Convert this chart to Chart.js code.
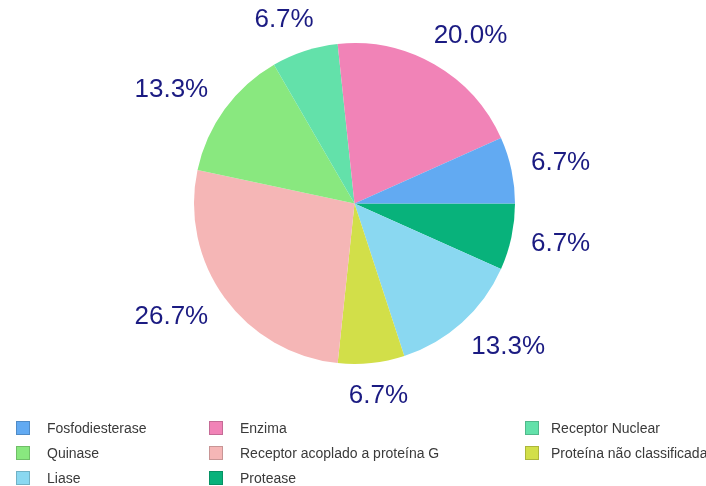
<!DOCTYPE html>
<html>
<head>
<meta charset="utf-8">
<script src="https://cdn.jsdelivr.net/npm/chart.js@4/dist/chart.umd.min.js"></script>
<style>
  html, body { margin: 0; padding: 0; background: #fff; }
  #wrap { position: relative; width: 706px; height: 486px; overflow: hidden; }
  #pie { position: absolute; left: 0; top: 0; }
  .lg { position: absolute; font-family: "Liberation Sans", Arial, sans-serif; font-size: 14px; color: #3a3a3a; white-space: nowrap; line-height: 16px; }
  .lg i { position: absolute; width: 12px; height: 12px; border: 1px solid rgba(0,0,0,0.18); top: 1px; }
  .lg span { position: absolute; top: 0; }
</style>
</head>
<body>
<div id="wrap">
  <canvas id="pie" width="706" height="486"></canvas>
</div>
<script>
// Target classes, listed counter-clockwise from 3 o'clock (same order as the legend)
const categories = [
  'Fosfodiesterase',
  'Enzima',
  'Receptor Nuclear',
  'Quinase',
  'Receptor acoplado a proteína G',
  'Proteína não classificada',
  'Liase',
  'Protease'
];
// Share of targets per class (%)
const shares = [6.7, 20.0, 6.7, 13.3, 26.7, 6.7, 13.3, 6.7];
const colors = [
  '#62aaf2',
  '#f183b7',
  '#63e1aa',
  '#89e87f',
  '#f5b6b6',
  '#d2df49',
  '#8ad8f1',
  '#08b27b'
];
// Legend grid: 3 columns, filled row by row
const legendCols = [{ box: 16, text: 47 }, { box: 209, text: 240 }, { box: 525, text: 551 }];
const legendRows = [420, 444.5, 469.5];

// Chart.js draws clockwise, so feed the slices in reverse to get the counter-clockwise layout
const chartLabels = categories.slice().reverse();
const chartValues = shares.slice().reverse();
const chartColors = colors.slice().reverse();

// Percent labels just outside each slice
const outsideLabels = {
  id: 'outsideLabels',
  afterDatasetsDraw(chart) {
    const ctx = chart.ctx;
    const meta = chart.getDatasetMeta(0);
    ctx.save();
    ctx.font = '26px "Liberation Sans", Arial, sans-serif';
    ctx.fillStyle = '#1b1b82';
    ctx.textAlign = 'center';
    ctx.textBaseline = 'middle';
    meta.data.forEach((arc, i) => {
      const p = arc.getProps(['x', 'y', 'startAngle', 'endAngle', 'outerRadius'], true);
      const mid = (p.startAngle + p.endAngle) / 2;
      const text = chartValues[i].toFixed(1) + '%';
      const w = ctx.measureText(text).width;
      const h = 19;
      const c = Math.cos(mid), s = Math.sin(mid);
      const dx = c * (p.outerRadius + 16 + w / 2 + 22 * Math.abs(s));
      const dy = s * (p.outerRadius + 23 + h / 2);
      ctx.fillText(text, p.x + dx, p.y + dy);
    });
    ctx.restore();
  }
};

new Chart(document.getElementById('pie'), {
  type: 'pie',
  data: {
    labels: chartLabels,
    datasets: [{
      data: chartValues,
      backgroundColor: chartColors,
      borderWidth: 0
    }]
  },
  options: {
    responsive: false,
    animation: false,
    rotation: 90,
    layout: { padding: { top: 43, bottom: 122, left: 194, right: 191 } },
    plugins: {
      legend: { display: false },
      tooltip: { enabled: false }
    }
  },
  plugins: [outsideLabels]
});

// HTML legend
const wrap = document.getElementById('wrap');
categories.forEach((name, i) => {
  const col = legendCols[i % 3];
  const top = legendRows[Math.floor(i / 3)];
  const item = document.createElement('div');
  item.className = 'lg';
  item.style.left = '0px';
  item.style.top = top + 'px';
  const box = document.createElement('i');
  box.style.left = col.box + 'px';
  box.style.background = colors[i];
  const label = document.createElement('span');
  label.style.left = col.text + 'px';
  label.textContent = name;
  item.appendChild(box);
  item.appendChild(label);
  wrap.appendChild(item);
});
</script>
</body>
</html>
